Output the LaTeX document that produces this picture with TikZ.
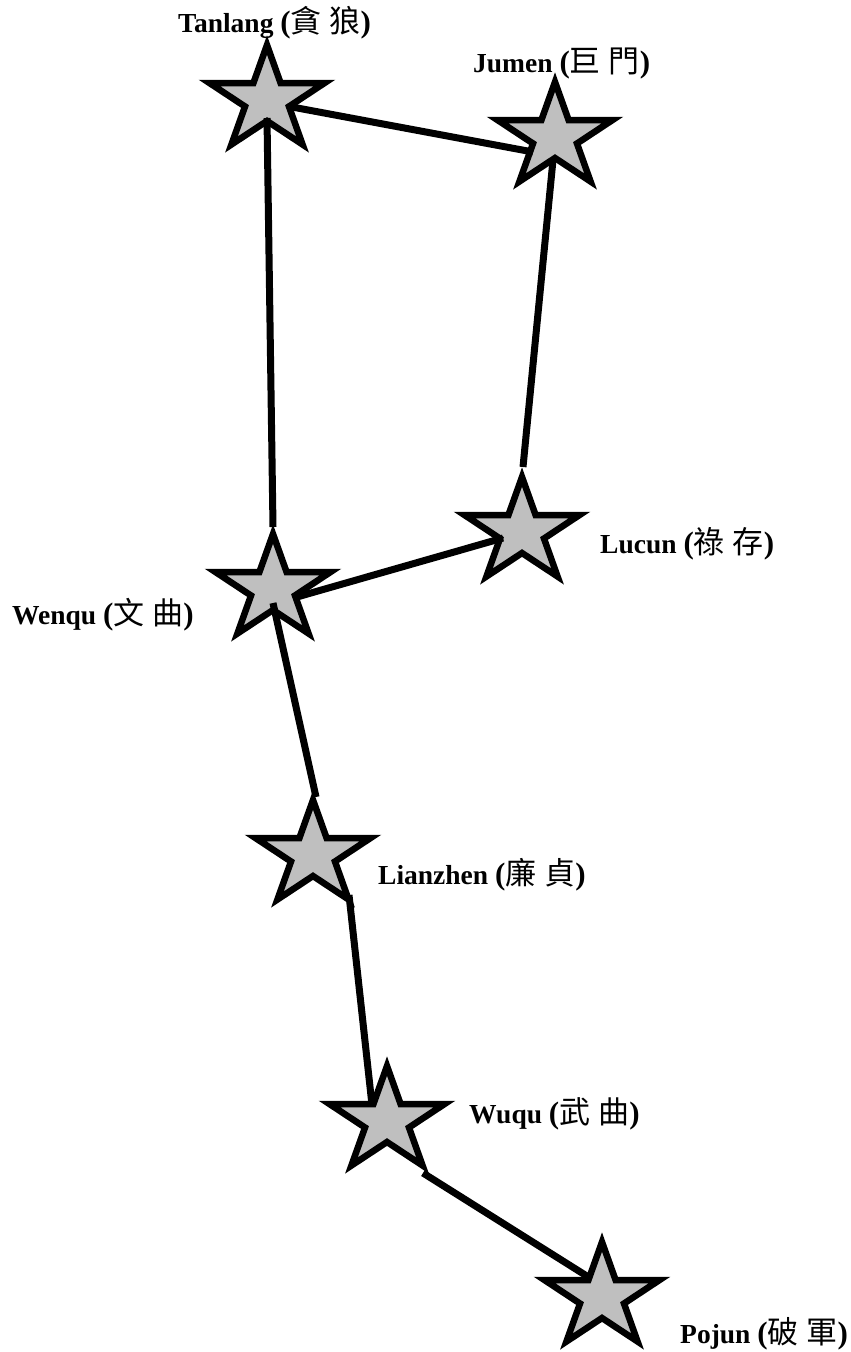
\documentclass[tikz,border=0pt]{standalone}
\usepackage{fontspec}
\setmainfont{Liberation Serif}
\newfontfamily\cjk{Noto Sans CJK TC}
\usetikzlibrary{shapes.geometric,calc}
\tikzset{
  starnode/.style={star, star points=5, star point ratio=2.618, minimum size=110pt, inner sep=0pt,
    xscale=1.1, transform shape, draw=black, fill=gray!50!white, line width=6.5pt, miter limit=10},
  link/.style={line width=7pt, black},
  lbl/.style={inner sep=0pt, anchor=base west, font=\fontsize{27.5}{30}\selectfont}
}
\newcommand{\pbig}[1]{{\fontsize{31}{32}\selectfont\textbf{#1}}}
\newcommand{\starlabel}[3]{\textbf{#1} \pbig{(}{\cjk\fontsize{31}{32}\selectfont #2\hspace{8pt}#3}\pbig{)}}
\begin{document}
\begin{tikzpicture}[x=1pt,y=-1pt]
\useasboundingbox (0,0) rectangle (851,1352);
\fill[white] (0,0) rectangle (851,1352);
\node[starnode] (tanlang) at (267,100) {};
\node[starnode] (jumen) at (555,137) {};
\node[starnode] (wenqu) at (273,589) {};
\node[starnode] (lucun) at (522,532) {};
\node[starnode] (lianzhen) at (313,855) {};
\node[starnode] (wuqu) at (387,1121) {};
\node[starnode] (pojun) at (602,1297) {};

\draw[link] ($(tanlang)+(25,7)$) -- ($(jumen)+(-22,15)$);
\draw[link] ($(tanlang)+(0,18)$) -- ($(wenqu)+(0,-62)$);
\draw[link] ($(jumen)+(-2,23)$) -- ($(lucun)+(1,-65)$);
\draw[link] ($(lucun)+(-19,6)$) -- ($(wenqu)+(24,8)$);
\draw[link] ($(wenqu)+(0,14)$) -- ($(lianzhen)+(3,-58)$);
\draw[link] ($(lianzhen)+(36,40)$) -- ($(wuqu)+(-15,-16)$);
\draw[link] ($(wuqu)+(36,52)$) -- ($(pojun)+(-12,-19)$);

\node[lbl] (ltanlang) at (178,32) {\starlabel{Tanlang}{貪}{狼}};
\node[lbl] (ljumen) at (473,72) {\starlabel{Jumen}{巨}{門}};
\node[lbl] (lwenqu) at (12,624) {\starlabel{Wenqu}{文}{曲}};
\node[lbl] (llucun) at (600,553) {\starlabel{Lucun}{祿}{存}};
\node[lbl] (llianzhen) at (378,884) {\starlabel{Lianzhen}{廉}{貞}};
\node[lbl] (lwuqu) at (469,1123) {\starlabel{Wuqu}{武}{曲}};
\node[lbl] (lpojun) at (680,1343) {\starlabel{Pojun}{破}{軍}};
\end{tikzpicture}
\end{document}
